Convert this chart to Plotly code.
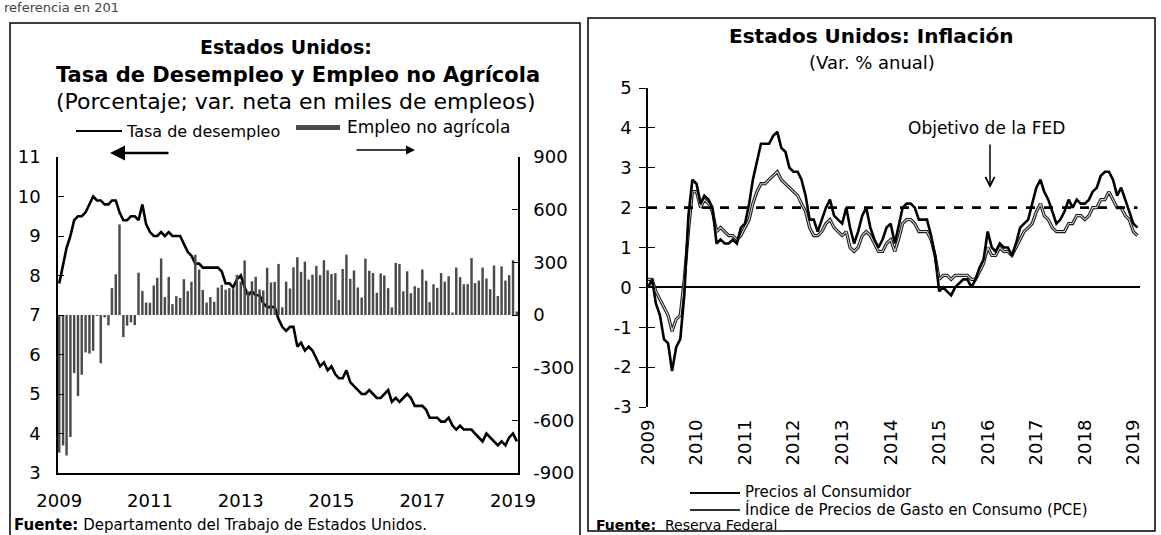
import pandas as pd
import plotly.graph_objects as go

# ---------------------------------------------------------------
# Datos (mensuales)
# ---------------------------------------------------------------
meses_empleo = pd.date_range("2009-01-01", "2019-02-01", freq="MS")

tasa_desempleo = [
    7.8, 8.3, 8.7, 9.0, 9.4, 9.5, 9.5, 9.6, 9.8, 10.0, 9.9, 9.9,
    9.8, 9.8, 9.9, 9.9, 9.6, 9.4, 9.4, 9.5, 9.5, 9.4, 9.8, 9.3,
    9.1, 9.0, 9.0, 9.1, 9.0, 9.1, 9.0, 9.0, 9.0, 8.8, 8.6, 8.5,
    8.3, 8.3, 8.2, 8.2, 8.2, 8.2, 8.2, 8.1, 7.8, 7.8, 7.7, 7.9,
    8.0, 7.7, 7.5, 7.6, 7.5, 7.5, 7.3, 7.2, 7.2, 7.2, 6.9, 6.7,
    6.6, 6.7, 6.7, 6.2, 6.3, 6.1, 6.2, 6.1, 5.9, 5.7, 5.8, 5.6,
    5.7, 5.5, 5.4, 5.4, 5.6, 5.3, 5.2, 5.1, 5.0, 5.0, 5.1, 5.0,
    4.9, 4.9, 5.0, 5.1, 4.8, 4.9, 4.8, 4.9, 5.0, 4.9, 4.7, 4.7,
    4.7, 4.6, 4.4, 4.4, 4.4, 4.3, 4.3, 4.4, 4.2, 4.1, 4.2, 4.1,
    4.1, 4.1, 4.0, 3.9, 3.8, 4.0, 3.9, 3.8, 3.7, 3.8, 3.7, 3.9,
    4.0, 3.8,
]

empleo_no_agricola = [
    -784, -743, -800, -695, -331, -462, -340, -213, -220, -204, -2, -275,
    -14, -59, 153, 232, 516, -126, -61, -42, -57, 241, 137, 71,
    70, 168, 212, 322, 102, 217, 62, 107, 97, 204, 136, 189,
    343, 259, 143, 71, 102, 75, 156, 172, 144, 153, 149, 229,
    190, 311, 135, 192, 218, 146, 140, 269, 185, 189, 291, 44,
    190, 151, 272, 329, 246, 304, 202, 230, 280, 227, 312, 255,
    234, 238, 86, 262, 344, 206, 254, 157, 100, 321, 252, 239,
    126, 237, 225, 153, 43, 297, 291, 135, 249, 124, 164, 155,
    259, 195, 73, 175, 155, 239, 190, 221, 14, 271, 216, 175,
    176, 324, 182, 196, 270, 208, 147, 282, 108, 277, 196, 227,
    312, 20,
]

meses_inflacion = pd.date_range("2009-01-01", "2019-02-01", freq="MS")

precios_consumidor = [
    0.0, 0.2, -0.4, -0.7, -1.3, -1.4, -2.1, -1.5, -1.3, -0.2, 1.8, 2.7,
    2.6, 2.1, 2.3, 2.2, 2.0, 1.1, 1.2, 1.1, 1.1, 1.2, 1.1, 1.5,
    1.6, 2.1, 2.7, 3.2, 3.6, 3.6, 3.6, 3.8, 3.9, 3.5, 3.4, 3.0,
    2.9, 2.9, 2.7, 2.3, 1.7, 1.7, 1.4, 1.7, 2.0, 2.2, 1.8, 1.7,
    1.6, 2.0, 1.5, 1.1, 1.4, 1.8, 2.0, 1.5, 1.2, 1.0, 1.2, 1.5,
    1.6, 1.1, 1.5, 2.0, 2.1, 2.1, 2.0, 1.7, 1.7, 1.7, 1.3, 0.8,
    -0.1, 0.0, -0.1, -0.2, 0.0, 0.1, 0.2, 0.2, 0.0, 0.2, 0.5, 0.7,
    1.4, 1.0, 0.9, 1.1, 1.0, 1.0, 0.8, 1.1, 1.5, 1.6, 1.7, 2.1,
    2.5, 2.7, 2.4, 2.2, 1.9, 1.6, 1.7, 1.9, 2.2, 2.0, 2.2, 2.1,
    2.1, 2.2, 2.4, 2.5, 2.8, 2.9, 2.9, 2.7, 2.3, 2.5, 2.2, 1.9,
    1.6, 1.5,
]

indice_pce = [
    0.2, 0.2, -0.1, -0.3, -0.5, -0.7, -1.1, -0.8, -0.7, 0.2, 1.4, 2.4,
    2.4, 2.0, 2.2, 2.1, 1.9, 1.4, 1.5, 1.4, 1.3, 1.3, 1.2, 1.3,
    1.5, 1.7, 2.1, 2.4, 2.6, 2.6, 2.7, 2.8, 2.9, 2.7, 2.6, 2.5,
    2.4, 2.3, 2.1, 1.9, 1.5, 1.3, 1.3, 1.4, 1.6, 1.7, 1.5, 1.4,
    1.3, 1.4, 1.0, 0.9, 1.0, 1.3, 1.4, 1.3, 1.1, 0.9, 0.9, 1.1,
    1.2, 0.9, 1.2, 1.6, 1.7, 1.7, 1.6, 1.4, 1.4, 1.4, 1.2, 0.8,
    0.2, 0.3, 0.3, 0.2, 0.3, 0.3, 0.3, 0.3, 0.2, 0.2, 0.4, 0.6,
    1.0, 0.8, 0.8, 1.0, 0.9, 0.9, 0.8, 1.0, 1.2, 1.4, 1.5, 1.6,
    1.9, 2.1, 1.8, 1.7, 1.5, 1.4, 1.4, 1.4, 1.6, 1.6, 1.8, 1.8,
    1.7, 1.8, 2.0, 2.0, 2.2, 2.2, 2.4, 2.2, 2.0, 2.0, 1.8, 1.7,
    1.4, 1.3,
]

objetivo_fed = 2.0

# etiquetas de los ejes (con guion simple, como en el original)
ticks_desempleo = [3, 4, 5, 6, 7, 8, 9, 10, 11]
ticks_empleo = [-900, -600, -300, 0, 300, 600, 900]
ticks_inflacion = [-3, -2, -1, 0, 1, 2, 3, 4, 5]

# ---------------------------------------------------------------
# Utilidades de posicion (pixeles -> papel)
# ---------------------------------------------------------------
W, H = 1161, 535


def px(x):
    return x / W


def py(y):
    return 1 - y / H


FONT = "DejaVu Sans"

fig = go.Figure()

# === Panel izquierdo: desempleo y empleo ===
fig.add_trace(go.Bar(
    x=meses_empleo, y=empleo_no_agricola,
    xaxis="x", yaxis="y2",
    marker=dict(color="#4a4a4a", line=dict(width=0)),
    name="Empleo no agrícola", showlegend=False,
))
fig.add_trace(go.Scatter(
    x=meses_empleo, y=tasa_desempleo,
    xaxis="x", yaxis="y",
    mode="lines", line=dict(color="black", width=2.6),
    name="Tasa de desempleo", showlegend=False,
))

# === Panel derecho: inflacion ===
fig.add_trace(go.Scatter(
    x=meses_inflacion, y=indice_pce,
    xaxis="x3", yaxis="y3",
    mode="lines", line=dict(color="#1a1a1a", width=3.2),
    name="Índice de Precios de Gasto en Consumo (PCE)", showlegend=False,
))
fig.add_trace(go.Scatter(
    x=meses_inflacion, y=indice_pce,
    xaxis="x3", yaxis="y3",
    mode="lines", line=dict(color="#cfcfcf", width=1.1),
    showlegend=False, hoverinfo="skip",
))
fig.add_trace(go.Scatter(
    x=meses_inflacion, y=precios_consumidor,
    xaxis="x3", yaxis="y3",
    mode="lines", line=dict(color="black", width=2.6),
    name="Precios al Consumidor", showlegend=False,
))
fig.add_trace(go.Scatter(
    x=[meses_inflacion[0], meses_inflacion[-1]], y=[objetivo_fed, objetivo_fed],
    xaxis="x3", yaxis="y4",
    mode="lines", line=dict(color="black", width=2.6, dash="dash"),
    name="Objetivo de la FED", showlegend=False,
))

tick_font = dict(family=FONT, size=18, color="black")

fig.update_layout(
    width=W, height=H,
    margin=dict(l=0, r=0, t=0, b=0, autoexpand=False),
    paper_bgcolor="white", plot_bgcolor="white",
    font=dict(family=FONT, color="black"),
    bargap=0.3,
    showlegend=False,
    xaxis=dict(
        domain=[px(58), px(518)], anchor="y", automargin=False,
        range=["2008-12-22", "2019-02-10"],
        tickvals=pd.date_range("2009-01-01", "2019-01-01", freq="24MS"),
        tickformat="%Y", ticks="", showgrid=False,
        showline=True, linecolor="black", linewidth=2,
        tickfont=tick_font, ticklabelstandoff=10,
    ),
    yaxis=dict(
        domain=[py(473), py(157)], anchor="x", automargin=False,
        range=[3, 11], tickvals=ticks_desempleo,
        ticktext=[str(v) for v in ticks_desempleo],
        showgrid=False, zeroline=False,
        showline=True, linecolor="black", linewidth=1.5,
        ticks="inside", ticklen=6, tickcolor="black",
        tickfont=tick_font, ticklabelstandoff=12,
    ),
    yaxis2=dict(
        overlaying="y", side="right", anchor="x", automargin=False,
        range=[-900, 900], tickvals=ticks_empleo,
        ticktext=[str(v) for v in ticks_empleo],
        showgrid=False, zeroline=False,
        showline=True, linecolor="black", linewidth=1.5,
        ticks="inside", ticklen=6, tickcolor="black",
        tickfont=tick_font, ticklabelstandoff=10,
    ),
    xaxis3=dict(
        domain=[px(648), px(1140)], anchor="y3", automargin=False,
        range=["2009-01-01", "2019-02-20"],
        tickvals=pd.date_range("2009-01-01", "2019-01-01", freq="12MS"),
        tickformat="%Y", tickangle=-90, ticks="", showgrid=False,
        showline=False, zeroline=False,
        tickfont=dict(family=FONT, size=18, color="black"),
        ticklabelstandoff=8,
    ),
    yaxis3=dict(
        domain=[py(407), py(88)], anchor="x3", automargin=False,
        range=[-3, 5], tickvals=ticks_inflacion,
        ticktext=[str(v) for v in ticks_inflacion],
        showgrid=False,
        zeroline=True, zerolinecolor="black", zerolinewidth=2,
        showline=True, linecolor="black", linewidth=1.5,
        ticks="outside", ticklen=7, tickcolor="black",
        tickfont=tick_font, ticklabelstandoff=4,
    ),
    yaxis4=dict(
        overlaying="y3", anchor="x3", side="left", automargin=False,
        range=[-3, 5], tickvals=ticks_inflacion,
        showgrid=False, zeroline=False,
        showline=False, showticklabels=False,
        ticks="inside", ticklen=7, tickcolor="black",
    ),
)

# ---------------------------------------------------------------
# Marcos, leyendas y textos
# ---------------------------------------------------------------
shapes = [
    # marco izquierdo
    dict(type="rect", xref="paper", yref="paper",
         x0=px(10), x1=px(580), y0=py(545), y1=py(23),
         line=dict(color="black", width=1.5)),
    # marco derecho
    dict(type="rect", xref="paper", yref="paper",
         x0=px(588), x1=px(1155), y0=py(531), y1=py(18),
         line=dict(color="black", width=1.5)),
    # muestras de leyenda (izquierda)
    dict(type="line", xref="paper", yref="paper",
         x0=px(76), x1=px(122), y0=py(131), y1=py(131),
         line=dict(color="black", width=1.8)),
    dict(type="rect", xref="paper", yref="paper",
         x0=px(296), x1=px(340), y0=py(130), y1=py(125),
         fillcolor="#4a4a4a", line=dict(width=0)),
    # muestras de leyenda (derecha)
    dict(type="line", xref="paper", yref="paper",
         x0=px(690), x1=px(740), y0=py(493), y1=py(493),
         line=dict(color="black", width=2.2)),
    dict(type="line", xref="paper", yref="paper",
         x0=px(690), x1=px(740), y0=py(510), y1=py(510),
         line=dict(color="#333333", width=2.2)),
]
fig.update_layout(shapes=shapes)


def texto(x, y, s, size, xanchor="center", bold=False, color="black"):
    if bold:
        s = "<b>" + s + "</b>"
    fig.add_annotation(
        x=px(x), y=py(y), xref="paper", yref="paper",
        text=s, showarrow=False, xanchor=xanchor, yanchor="middle",
        font=dict(family=FONT, size=size, color=color),
    )


def flecha(x0, y0, x1, y1, head=2, width=2):
    # punta en (x1, y1); cola desplazada en pixeles
    fig.add_annotation(
        x=px(x1), y=py(y1), xref="paper", yref="paper",
        ax=x0 - x1, ay=y0 - y1, axref="pixel", ayref="pixel",
        text="", showarrow=True, arrowhead=head, arrowsize=1.2,
        arrowwidth=width, arrowcolor="black",
    )


# fragmento de texto de la pagina
texto(2, 8, "referencia en 201", 13, xanchor="left", color="#444444")

# titulos panel izquierdo
texto(286, 47, "Estados Unidos:", 19, bold=True)
texto(298, 75, "Tasa de Desempleo y Empleo no Agrícola", 21, bold=True)
texto(296, 101, "(Porcentaje; var. neta en miles de empleos)", 22)
texto(124, 131, "Tasa de desempleo", 16, xanchor="left")
texto(345, 127, "Empleo no agrícola", 17, xanchor="left")
flecha(170, 153, 110, 153, head=2, width=2.5)
flecha(355, 150, 415, 150, head=2, width=1.5)
texto(12, 525, "<b>Fuente:</b> Departamento del Trabajo de Estados Unidos.", 15, xanchor="left")

# titulos panel derecho
texto(871, 36, "Estados Unidos: Inflación", 20, bold=True)
texto(872, 63, "(Var. % anual)", 18)
texto(986, 128, "Objetivo de la FED", 17)
flecha(990, 143, 990, 188, head=5, width=1.5)
texto(743, 492, "Precios al Consumidor", 15, xanchor="left")
texto(743, 509, "Índice de Precios de Gasto en Consumo (PCE)", 15, xanchor="left")
texto(594, 525, "<b>Fuente:</b>  Reserva Federal", 14, xanchor="left")

# sin margen del body para que la figura ocupe toda la ventana
fig.write_html(
    "out.html",
    config={"displayModeBar": False},
    post_script="document.body.style.margin='0';",
)
